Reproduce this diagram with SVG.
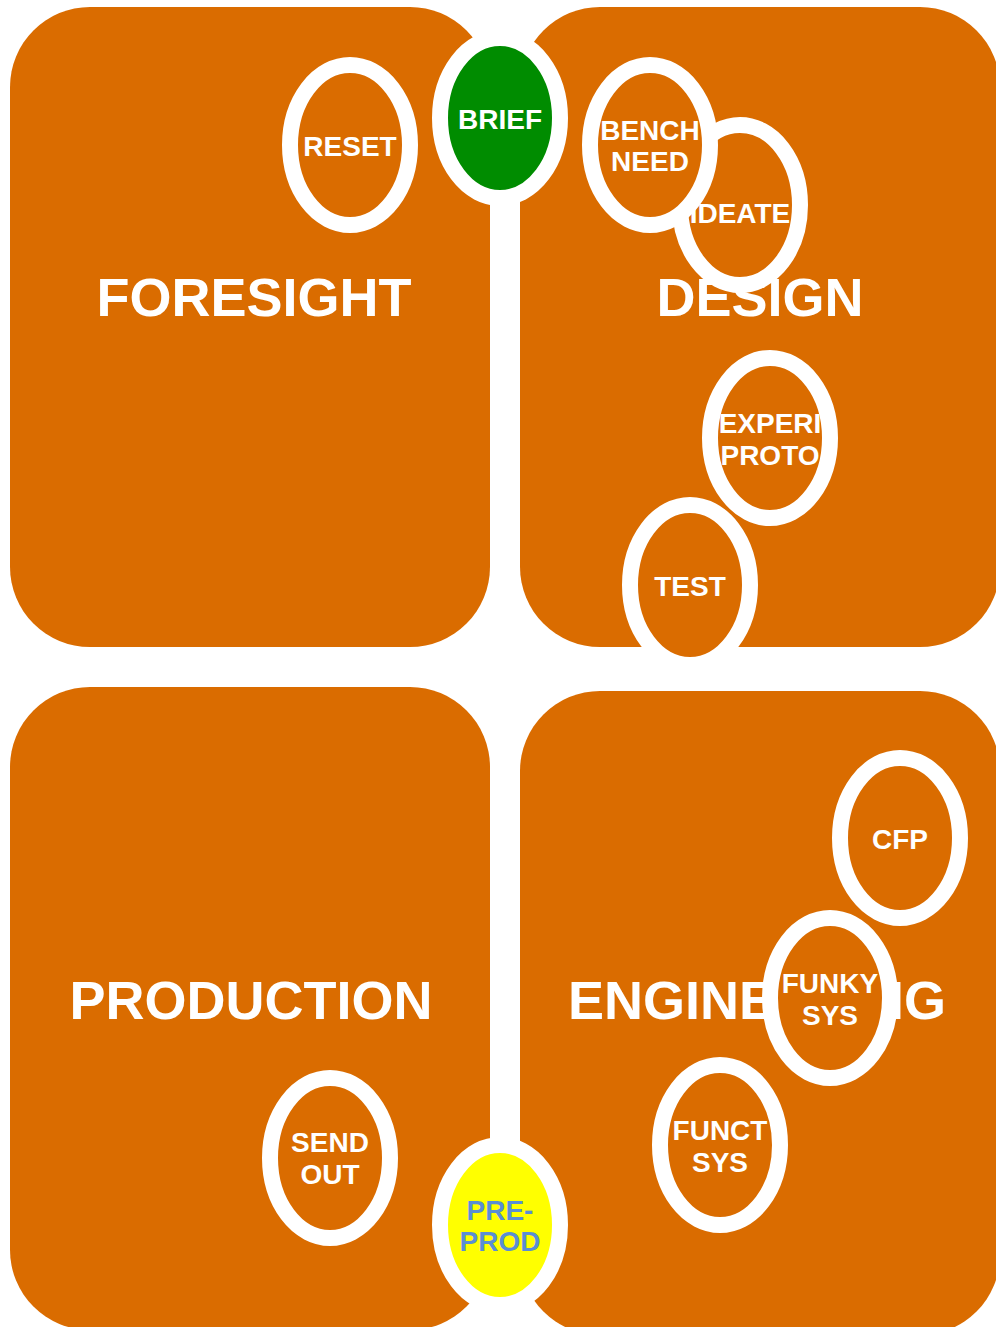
<svg xmlns="http://www.w3.org/2000/svg" width="996" height="1327" viewBox="0 0 996 1327">
<style>
.quad{fill:#DA6C00}
.big{font-family:"Liberation Sans",Arial,sans-serif;font-weight:bold;font-size:54px;fill:#FFFFFF;text-anchor:middle}
.node ellipse{fill:#DA6C00;stroke:#FFFFFF;stroke-width:16}
.node text{font-family:"Liberation Sans",Arial,sans-serif;font-weight:bold;font-size:28px;fill:#FFFFFF;text-anchor:middle}
.conn{stroke:#FFFFFF;stroke-width:30;fill:none}
</style>
<rect width="996" height="1327" fill="#FFFFFF"/>
<g id="quadrants">
  <rect id="q-foresight" class="quad" x="10" y="7" width="480" height="640" rx="80" ry="80"/>
  <rect id="q-design" class="quad" x="520" y="7" width="480" height="640" rx="80" ry="80"/>
  <rect id="q-production" class="quad" x="10" y="687" width="480" height="643" rx="80" ry="80"/>
  <rect id="q-engineering" class="quad" x="520" y="691" width="480" height="644" rx="80" ry="80"/>
</g>
<g id="connectors">
  <line class="conn" x1="505" y1="120" x2="505" y2="1225"/>
</g>
<g id="labels">
  <text class="big" x="254" y="316">FORESIGHT</text>
  <text class="big" x="760" y="316">DESIGN</text>
  <text class="big" x="251" y="1019">PRODUCTION</text>
  <text class="big" x="757" y="1019">ENGINEERING</text>
</g>
<g id="reset" class="node">
  <ellipse cx="350" cy="145" rx="60" ry="80"/>
  <text x="350" y="156">RESET</text>
</g>
<g id="brief" class="node">
  <ellipse cx="500" cy="118" rx="60" ry="80" style="fill:#008C00"/>
  <text x="500" y="129">BRIEF</text>
</g>
<g id="ideate" class="node">
  <ellipse cx="740" cy="205" rx="60" ry="80"/>
  <text x="740" y="223">IDEATE</text>
</g>
<g id="bench-need" class="node">
  <ellipse cx="650" cy="145" rx="60" ry="80"/>
  <text x="650" y="140">BENCH</text>
  <text x="650" y="171">NEED</text>
</g>
<g id="experi-proto" class="node">
  <ellipse cx="770" cy="438" rx="60" ry="80"/>
  <text x="770" y="433">EXPERI</text>
  <text x="770" y="465">PROTO</text>
</g>
<g id="test" class="node">
  <ellipse cx="690" cy="585" rx="60" ry="80"/>
  <text x="690" y="596">TEST</text>
</g>
<g id="cfp" class="node">
  <ellipse cx="900" cy="838" rx="60" ry="80"/>
  <text x="900" y="849">CFP</text>
</g>
<g id="funky-sys" class="node">
  <ellipse cx="830" cy="998" rx="60" ry="80"/>
  <text x="830" y="993">FUNKY</text>
  <text x="830" y="1025">SYS</text>
</g>
<g id="funct-sys" class="node">
  <ellipse cx="720" cy="1145" rx="60" ry="80"/>
  <text x="720" y="1140">FUNCT</text>
  <text x="720" y="1172">SYS</text>
</g>
<g id="send-out" class="node">
  <ellipse cx="330" cy="1158" rx="60" ry="80"/>
  <text x="330" y="1152">SEND</text>
  <text x="330" y="1184">OUT</text>
</g>
<g id="pre-prod" class="node">
  <ellipse cx="500" cy="1225" rx="60" ry="80" style="fill:#FFFF00"/>
  <text x="500" y="1220" style="fill:#5A8ED4">PRE-</text>
  <text x="500" y="1251" style="fill:#5A8ED4">PROD</text>
</g>
</svg>
